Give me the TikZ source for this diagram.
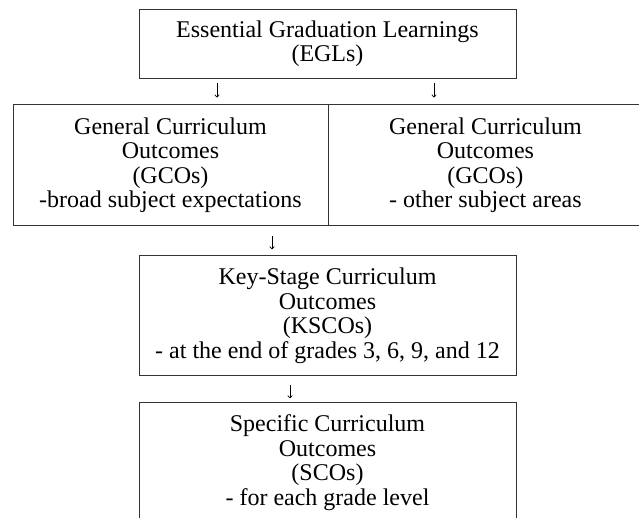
\documentclass[tikz,border=0pt]{standalone}
\usepackage{fontspec}
\setmainfont{Liberation Serif}
\usetikzlibrary{positioning,arrows.meta}

\begin{document}
\begin{tikzpicture}
 		\tikzstyle{box}=[rectangle, draw=black!80, line width=0.9pt, inner sep=0pt, align=center, font=\fontsize{24}{24.5}\selectfont]
 		\tikzstyle{connect}=[-{To[length=3pt,width=5pt]}, line width=0.7pt]
 		\useasboundingbox (0,0) rectangle (639pt,-518pt);
 		\clip (0,0) rectangle (639pt,-518pt);
 		\node[box, minimum width=377pt, minimum height=69pt] (egl) at (327.5pt,-43.5pt) {Essential Graduation Learnings\\(EGLs)};
 		\node[box, minimum width=315pt, minimum height=121pt] (gcoL) [below=26pt of egl, xshift=-157pt] {General Curriculum\\Outcomes\\(GCOs)\\-broad subject expectations};
 			\node[box, minimum width=313pt, minimum height=121pt] (gcoR) [right=0pt of gcoL] {General Curriculum\\Outcomes\\(GCOs)\\- other subject areas};
 				\node[box, minimum width=377pt, minimum height=120pt] (ksco) [below=29pt of gcoL, xshift=157pt] {Key-Stage Curriculum\\Outcomes\\(KSCOs)\\- at the end of grades 3, 6, 9, and 12};
 					\node[box, minimum width=377pt, minimum height=120pt] (sco) [below=26pt of ksco] {Specific Curriculum\\Outcomes\\(SCOs)\\- for each grade level};
 		\coordinate (e1) at ([xshift=-110.5pt, yshift=-5pt]egl.south);
 		\coordinate (g1) at ([xshift=-110.5pt, yshift=-19pt]egl.south);
 		\coordinate (e2) at ([xshift=106.5pt, yshift=-5pt]egl.south);
 		\coordinate (g2) at ([xshift=106.5pt, yshift=-19pt]egl.south);
 		\coordinate (g3) at ([xshift=101.5pt, yshift=-10pt]gcoL.south);
 		\coordinate (k3) at ([xshift=101.5pt, yshift=-23pt]gcoL.south);
 		\coordinate (k4) at ([xshift=-37.5pt, yshift=-9pt]ksco.south);
 		\coordinate (s4) at ([xshift=-37.5pt, yshift=-22pt]ksco.south);

  		\path (e1) edge [connect] (g1)
  			(e2) edge [connect] (g2)
  				(g3) edge [connect] (k3)
  					(k4) edge [connect] (s4);
\end{tikzpicture}
\end{document}
